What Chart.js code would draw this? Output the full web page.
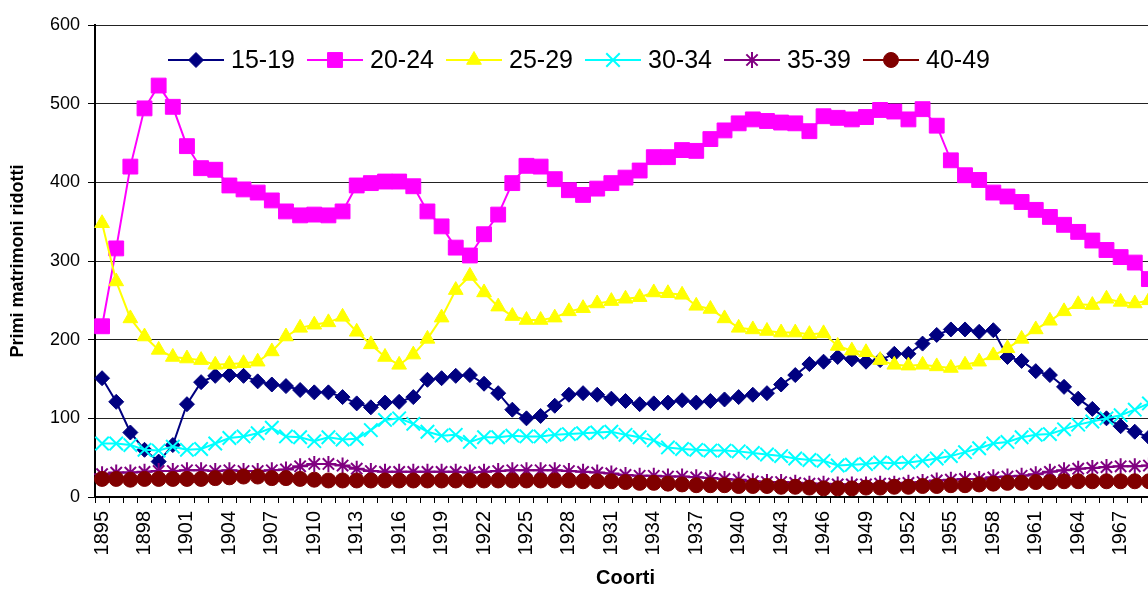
<!DOCTYPE html>
<html>
<head>
<meta charset="utf-8">
<title>Primi matrimoni ridotti per coorte</title>
<script src="https://cdn.jsdelivr.net/npm/chart.js@4.4.1/dist/chart.umd.min.js"></script>
<style>
  html, body { margin: 0; padding: 0; background: #fff; overflow: hidden; }
  #wrap { width: 1181px; height: 590px; }
</style>
</head>
<body>
<div id="wrap"><canvas id="myChart" width="1181" height="590"></canvas></div>
<script>
// coorti di nascita (the plot runs past the right edge of the picture)
const years = [
  '1895','1896','1897','1898','1899','1900','1901','1902','1903','1904',
  '1905','1906','1907','1908','1909','1910','1911','1912','1913','1914',
  '1915','1916','1917','1918','1919','1920','1921','1922','1923','1924',
  '1925','1926','1927','1928','1929','1930','1931','1932','1933','1934',
  '1935','1936','1937','1938','1939','1940','1941','1942','1943','1944',
  '1945','1946','1947','1948','1949','1950','1951','1952','1953','1954',
  '1955','1956','1957','1958','1959','1960','1961','1962','1963','1964',
  '1965','1966','1967','1968','1969'
]

const v1519 = [
  151,121,82,60,45,66,118,146,154,155,
  154,147,143,141,136,133,133,127,119,114,
  120,121,127,149,151,154,155,144,132,111,
  100,103,116,130,132,130,125,122,118,119,
  120,123,120,122,124,127,130,132,143,155,
  169,172,178,175,172,174,182,182,195,206,
  213,213,210,212,178,173,160,155,140,125,
  112,100,90,83,76
]
const v2024 = [
  217,316,420,494,523,496,446,418,416,396,
  391,387,377,363,358,359,358,363,396,399,
  401,401,395,363,344,317,307,334,359,399,
  421,420,404,390,384,392,399,406,415,432,
  432,441,440,455,466,475,480,478,476,475,
  465,484,482,480,483,492,490,480,493,472,
  428,409,403,387,382,375,365,356,346,337,
  326,314,305,298,277
]
const v2529 = [
  348,274,227,204,187,178,176,174,168,169,
  170,172,185,204,215,219,222,229,210,194,
  178,168,181,201,228,263,281,260,242,230,
  225,225,228,236,240,246,249,252,254,260,
  259,257,243,239,227,215,213,211,209,209,
  207,208,192,186,184,174,168,167,168,166,
  164,168,172,180,189,201,213,224,236,245,
  244,252,248,246,250
]
const v3034 = [
  68,68,66,60,59,64,60,61,68,75,
  77,81,88,77,76,71,76,73,74,85,
  98,100,93,83,78,79,70,76,76,78,
  77,77,79,80,81,82,83,79,76,72,
  63,61,60,59,59,58,56,54,52,49,
  47,46,40,41,42,44,43,44,46,49,
  52,57,62,68,70,76,79,80,86,92,
  96,100,104,111,119
]
const v3539 = [
  29,31,31,32,33,33,34,34,33,34,
  33,33,34,35,39,42,42,40,36,33,
  32,32,32,32,32,32,31,32,33,34,
  34,34,34,33,32,31,30,28,27,27,
  26,26,25,24,23,22,20,19,19,18,
  17,17,16,16,16,17,17,18,19,21,
  22,23,23,25,26,27,29,32,34,36,
  37,38,39,39,40
]
const v4049 = [
  23,23,22,23,23,23,23,23,24,25,
  26,26,24,24,23,22,21,21,21,21,
  21,21,21,21,21,21,21,21,21,21,
  21,21,21,21,20,20,20,19,18,18,
  17,16,15,15,15,14,14,14,13,13,
  12,11,11,11,12,12,13,13,14,14,
  15,15,16,17,18,18,19,19,20,20,
  20,20,20,20,20
]

const seriesNames = ['15-19', '20-24', '25-29', '30-34', '35-39', '40-49']
const seriesColors = ['#000080', '#FF00FF', '#FFFF00', '#00FFFF', '#800080', '#800000']
const seriesMarkers = ['rectRot', 'rect', 'triangle', 'crossRot', 'star', 'circle']
const markerSizes = [7.5, 10.5, 8.5, 9.5, 8, 7.5]
const yTicks = [0, 100, 200, 300, 400, 500, 600]

const FONT = '"Liberation Sans", Arial, sans-serif'

const allValues = [v1519, v2024, v2529, v3034, v3539, v4049]
const datasets = allValues.map((vals, i) => ({
  label: seriesNames[i],
  data: vals,
  borderColor: seriesColors[i],
  backgroundColor: seriesColors[i],
  borderWidth: 2,
  pointStyle: seriesMarkers[i],
  pointRadius: markerSizes[i],
  pointHoverRadius: markerSizes[i],
  pointBackgroundColor: seriesColors[i],
  pointBorderColor: seriesColors[i],
  pointBorderWidth: (seriesMarkers[i] == 'crossRot' || seriesMarkers[i] == 'star') ? 2 : 1,
  tension: 0,
  fill: false,
  order: seriesNames.length - i   // later series on top, like the original
}))

// legend sits inside the plot area, line + marker + label
const insideLegend = {
  id: 'insideLegend',
  afterDraw(chart) {
    const ctx = chart.ctx
    const area = chart.chartArea
    ctx.save()
    chart.data.datasets.forEach((ds, i) => {
      const x0 = area.left + 73 + 139 * i
      const y = area.top + 35
      ctx.strokeStyle = ds.borderColor
      ctx.lineWidth = 2
      ctx.beginPath()
      ctx.moveTo(x0, y)
      ctx.lineTo(x0 + 56, y)
      ctx.stroke()
      ctx.fillStyle = ds.pointBackgroundColor
      ctx.strokeStyle = ds.pointBorderColor
      ctx.lineWidth = ds.pointBorderWidth
      Chart.helpers.drawPoint(ctx, {
        pointStyle: ds.pointStyle, radius: ds.pointRadius,
        borderWidth: ds.pointBorderWidth, rotation: 0
      }, x0 + 28, y)
      ctx.fillStyle = '#000'
      ctx.font = '25px ' + FONT
      ctx.textAlign = 'left'
      ctx.textBaseline = 'middle'
      ctx.fillText(ds.label, x0 + 63, y + 1)
    })
    ctx.restore()
  }
}

let chart = new Chart('myChart', {
  type: 'line',
  data: { labels: years, datasets: datasets },
  plugins: [insideLegend],
  options: {
    responsive: false,
    animation: false,
    devicePixelRatio: 1,
    layout: { padding: { top: 25, right: 0, left: 0, bottom: 0 } },
    plugins: {
      legend: { display: false },
      tooltip: { enabled: false }
    },
    scales: {
      x: {
        type: 'category',
        offset: true,
        grid: {
          offset: true,
          drawOnChartArea: false,
          drawTicks: true,
          tickLength: 6,
          tickColor: '#000',
          tickWidth: 1
        },
        border: { color: '#000', width: 2 },
        ticks: {
          autoSkip: false,
          minRotation: 90,
          maxRotation: 90,
          padding: 8,
          color: '#000',
          font: { size: 20, family: FONT },
          callback: function (val, idx) {
            return idx % 3 === 0 ? this.getLabelForValue(val) : ''
          }
        },
        title: {
          display: true,
          text: 'Coorti',
          color: '#000',
          font: { size: 20, weight: 'bold', family: FONT },
          padding: { top: 0, bottom: 0 }
        },
        afterFit: scale => { scale.height = 93 }
      },
      y: {
        min: 0,
        max: 600,
        afterBuildTicks: scale => { scale.ticks = yTicks.map(v => ({ value: v })) },
        ticks: {
          padding: 8,
          color: '#000',
          font: { size: 18, family: FONT }
        },
        grid: {
          color: '#222',
          lineWidth: 1,
          tickLength: 7,
          tickColor: '#000'
        },
        border: { color: '#000', width: 2 },
        title: {
          display: true,
          text: 'Primi matrimoni ridotti',
          color: '#000',
          font: { size: 18, weight: 'bold', family: FONT },
          padding: { top: 7, bottom: 0 }
        },
        afterFit: scale => { scale.width = 95 }
      }
    }
  }
})
</script>
</body>
</html>
